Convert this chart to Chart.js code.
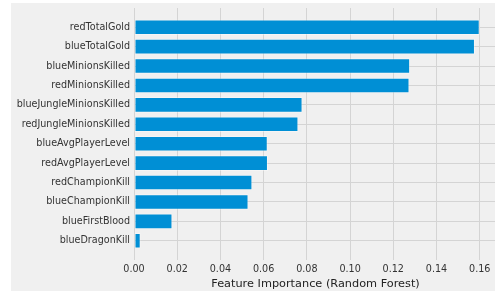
<!DOCTYPE html>
<html>
<head>
<meta charset="utf-8">
<script src="https://cdn.jsdelivr.net/npm/chart.js@4"></script>
<style>
    html, body { margin: 0; padding: 0; background: #ffffff; overflow: hidden; }
    #panel { position: absolute; left: 11px; top: 3px; width: 484px; height: 288px; background: #f0f0f0; overflow: hidden; }
    canvas { display: block; }
</style>
</head>
<body>
<div id="panel"><canvas id="myChart" width="486" height="288"></canvas></div>
<script>
// Feature names, top to bottom
const features = [
    'redTotalGold', 'blueTotalGold', 'blueMinionsKilled', 'redMinionsKilled',
    'blueJungleMinionsKilled', 'redJungleMinionsKilled', 'blueAvgPlayerLevel',
    'redAvgPlayerLevel', 'redChampionKill', 'blueChampionKill', 'blueFirstBlood',
    'blueDragonKill'
];
// Importance values
const importance = [
    0.160, 0.1578, 0.1278, 0.1275, 0.0780, 0.0761, 0.0619,
    0.0620, 0.0548, 0.0530, 0.0178, 0.0031
];
const xTicks = [0, 0.02, 0.04, 0.06, 0.08, 0.10, 0.12, 0.14, 0.16];

const fontFamily = '"DejaVu Sans", sans-serif';
const gridColor = '#d4d4d4';

const ctx = document.getElementById('myChart').getContext('2d');
const myChartInstance = new Chart(ctx, {
    type: 'bar',
    data: {
        datasets: [{
            label: 'Feature Importance',
            data: importance.map((v, i) => ({ x: v, y: i })),
            backgroundColor: '#008fd5',
            borderColor: 'rgba(255, 255, 255, 0.35)',
            borderWidth: 1,
            borderSkipped: false,
            categoryPercentage: 0.8,
            barPercentage: 1.0
        }]
    },
    options: {
        indexAxis: 'y',
        responsive: false,
        animation: false,
        layout: { padding: { top: 5, left: 0, right: 0, bottom: 0 } },
        plugins: {
            legend: { display: false },
            tooltip: { enabled: false }
        },
        scales: {
            x: {
                type: 'linear',
                min: 0,
                max: 0.168,
                afterBuildTicks: axis => { axis.ticks = xTicks.map(v => ({ value: v })); },
                afterFit: axis => { axis.height = 31; axis.paddingLeft = 0; axis.paddingRight = 0; },
                grid: { color: gridColor, lineWidth: 1, drawTicks: false },
                border: { display: false },
                ticks: {
                    padding: 4,
                    color: '#333333',
                    font: { family: fontFamily, size: 9.6 },
                    callback: v => v.toFixed(2)
                },
                title: {
                    display: true,
                    text: 'Feature Importance (Random Forest)',
                    color: '#222222',
                    font: { family: fontFamily, size: 11.3 },
                    padding: { top: 4.5, bottom: 0 }
                }
            },
            y: {
                type: 'linear',
                reverse: true,
                offset: false,
                min: -0.99,
                max: features.length - 1 + 0.99,
                afterBuildTicks: axis => { axis.ticks = features.map((f, i) => ({ value: i })); },
                afterFit: axis => { axis.width = 123; axis.paddingTop = 0; axis.paddingBottom = 0; },
                grid: { color: gridColor, lineWidth: 1, drawTicks: false, offset: false },
                border: { display: false },
                ticks: {
                    padding: 4,
                    color: '#333333',
                    font: { family: fontFamily, size: 9.6 },
                    callback: v => features[v]
                }
            }
        }
    }
});
</script>
</body>
</html>
